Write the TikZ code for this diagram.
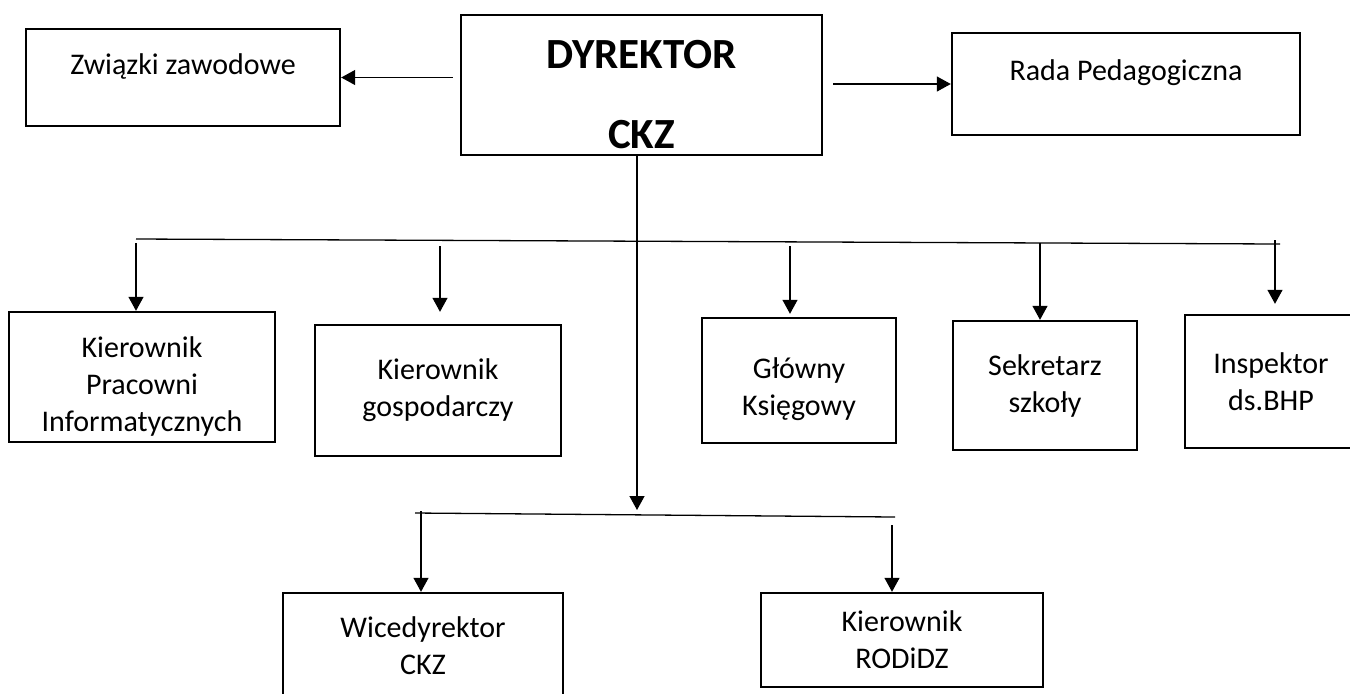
\documentclass[tikz,border=0pt]{standalone}
\usepackage{fontspec}
\setmainfont{Carlito}
\usetikzlibrary{arrows.meta}
\tikzset{box/.style={draw,line width=1.2pt,align=center,inner sep=0pt,
    font=\fontsize{15}{18.5}\selectfont},
    head/.style={font=\fontsize{21.5}{40}\selectfont\bfseries},
    link/.style={line width=0.65pt},
    arr/.style={link,-{Triangle[length=7pt,width=7.5pt]}}}

\begin{document}
\begin{tikzpicture}[x=0.5pt,y=-0.5pt]
    \useasboundingbox (0,0) rectangle (1350,693);
    \clip (0,0) rectangle (1350,693);
    \node[box,head,minimum width=180.5pt,minimum height=70pt] (dyr) at (641.5,85)
        {\rule{0pt}{24pt}DYREKTOR\\CKZ};
    \node[box,minimum width=157pt,minimum height=48.5pt,text depth=13pt] (zw) at (183,77.5)
        {Związki zawodowe};
    \node[box,minimum width=174pt,minimum height=51pt,text depth=14pt] (rada) at (1126,84)
        {Rada Pedagogiczna};
    \node[box,minimum width=133pt,minimum height=65pt] (k1) at (142,377)
        {\rule{0pt}{19.5pt}Kierownik\\Pracowni\\Informatycznych};
    \node[box,minimum width=123pt,minimum height=65.5pt] (k2) at (438,390.5)
        {Kierownik\\gospodarczy};
    \node[box,minimum width=97pt,minimum height=62.5pt] (gk) at (799,380.5)
        {\rule{0pt}{19.5pt}Główny\\Księgowy};
    \node[box,minimum width=92pt,minimum height=64.5pt] (sek) at (1045,385.5)
        {Sekretarz\\szkoły};
    \node[box,minimum width=86pt,minimum height=66.5pt] (insp) at (1271,381.5)
        {Inspektor\\ds.BHP};
    \node[box,minimum width=140pt,minimum height=53pt] (wice) at (423,646)
        {Wicedyrektor\\CKZ};
    \node[box,minimum width=141pt,minimum height=47pt] (rod) at (902,640)
        {Kierownik\\RODiDZ};

    \coordinate (b1l) at (136,239);
    \coordinate (b1r) at (1280,244);
    \coordinate (hub) at (637,510);
    \coordinate (b2l) at (415,513);
    \coordinate (b2r) at (895,517);
    \coordinate (d1) at (136,243);
    \coordinate (d2) at (440,246);
    \coordinate (d3) at (790,246);
    \coordinate (d4) at (1040,243);
    \coordinate (d5) at (1275,240);
    \coordinate (d6) at (421,511);
    \coordinate (d7) at (892,525);

    \draw[arr] ([xshift=-3.5pt]dyr.west |- zw.east) -- (zw.east);
    \draw[arr] ([xshift=5pt]dyr.east |- rada.west) -- (rada.west);
    \draw[arr] (hub |- dyr.south) -- (hub);
    \draw[link] (b1l) -- (b1r);
    \draw[link] (b2l) -- (b2r);
    \draw[arr] (d1) -- (d1 |- k1.north);
    \draw[arr] (d2) -- ([yshift=6pt]d2 |- k2.north);
    \draw[arr] (d3) -- ([yshift=1.5pt]d3 |- gk.north);
    \draw[arr] (d4) -- (d4 |- sek.north);
    \draw[arr] (d5) -- ([yshift=5pt]d5 |- insp.north);
    \draw[arr] (d6) -- (d6 |- wice.north);
    \draw[arr] (d7) -- (d7 |- rod.north);
\end{tikzpicture}
\end{document}
